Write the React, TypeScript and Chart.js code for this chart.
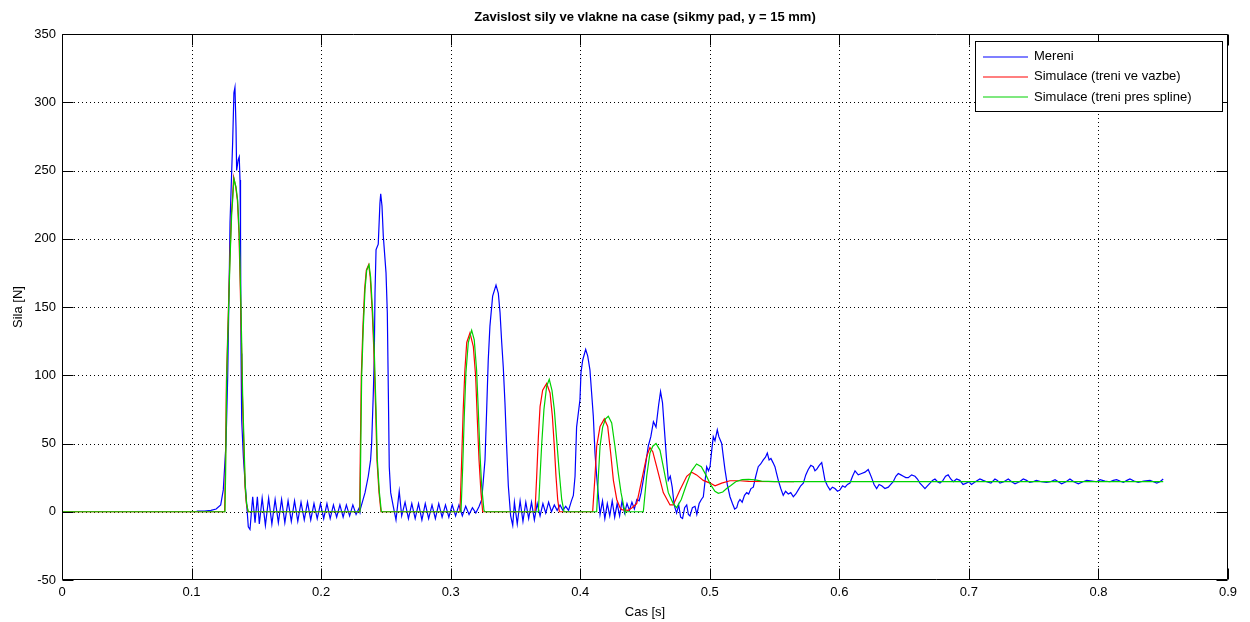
import { useEffect, useRef } from "react";
import { Chart, registerables } from "chart.js";

Chart.register(...registerables);

const TITLE = "Zavislost sily ve vlakne na case (sikmy pad, y = 15 mm)";
const X_LABEL = "Cas [s]";
const Y_LABEL = "Sila [N]";
const X_TICKS = [0, 0.1, 0.2, 0.3, 0.4, 0.5, 0.6, 0.7, 0.8, 0.9];
const X_TICK_LABELS = ["0", "0.1", "0.2", "0.3", "0.4", "0.5", "0.6", "0.7", "0.8", "0.9"];
const Y_TICKS = [-50, 0, 50, 100, 150, 200, 250, 300, 350];
const SERIES_NAMES = ["Mereni", "Simulace (treni ve vazbe)", "Simulace (treni pres spline)"];
const SERIES_COLORS = ["#0000ff", "#ff0000", "#00d200"];

// Measured force [t (s), F (N)]
const mereni: [number, number][] = [
  [0.104, 0.5], [0.110, 0.5], [0.115, 1], [0.119, 2], [0.1225, 5], [0.1245, 16], [0.1266, 50],
  [0.1279, 99], [0.1291, 172], [0.1297, 212], [0.1310, 250], [0.1317, 270], [0.1327, 307],
  [0.1335, 311], [0.1343, 282], [0.1348, 250], [0.1360, 258], [0.1368, 260], [0.1374, 243],
  [0.1378, 204], [0.1382, 116], [0.1387, 67], [0.1400, 40], [0.1412, 23], [0.1425, 6],
  [0.1438, -11], [0.1451, -13], [0.1472, 11], [0.1490, -8], [0.1508, 11], [0.1523, -9],
  [0.1545, 10], [0.1570, -10], [0.1595, 10], [0.1620, -9], [0.1645, 9], [0.1670, -8],
  [0.1695, 9], [0.1720, -8], [0.1745, 8], [0.1770, -7], [0.1795, 8], [0.1820, -7],
  [0.1845, 7], [0.1870, -6], [0.1895, 7], [0.1920, -6], [0.1945, 6], [0.1970, -5],
  [0.1995, 6], [0.2020, -5], [0.2045, 6], [0.2070, -5], [0.2095, 5], [0.2120, -4],
  [0.2145, 5], [0.2170, -4], [0.2195, 5], [0.2220, -3], [0.2245, 5], [0.2270, -2],
  [0.2295, 3], [0.2300, 1], [0.2339, 14], [0.2364, 26], [0.2382, 38], [0.2390, 50],
  [0.2403, 87], [0.2410, 111], [0.2416, 160], [0.2424, 192], [0.2441, 196], [0.2454, 226],
  [0.2460, 233], [0.2470, 224], [0.2480, 202], [0.2501, 175], [0.2511, 146], [0.2519, 87],
  [0.2526, 33], [0.2537, 14], [0.2557, 4], [0.2578, -6], [0.2603, 15],
  [0.2622, -3], [0.2648, 7], [0.2674, -5], [0.2700, 6], [0.2726, -5], [0.2752, 6],
  [0.2778, -6], [0.2804, 6], [0.2830, -5], [0.2856, 5], [0.2882, -5], [0.2908, 6],
  [0.2934, -4], [0.2960, 5], [0.2986, -4], [0.3012, 5], [0.3038, -3], [0.3064, 5],
  [0.3090, -3], [0.3116, 4], [0.3142, -2], [0.3168, 3], [0.3194, -1], [0.3220, 4],
  [0.3240, 9], [0.3265, 38], [0.3278, 75], [0.3290, 111], [0.3303, 136], [0.3324, 158],
  [0.3350, 166], [0.3368, 160], [0.3381, 146], [0.3394, 124], [0.3406, 106], [0.3419, 80],
  [0.3432, 48], [0.3445, 19], [0.3463, -3], [0.3479, -10],
  [0.3492, 7], [0.3514, -9], [0.3536, 8], [0.3558, -7], [0.3580, 7], [0.3602, -5],
  [0.3624, 7], [0.3646, -6], [0.3668, 6], [0.3690, -3], [0.3712, 6], [0.3734, -1],
  [0.3756, 7], [0.3778, 0], [0.3800, 5], [0.3822, 1], [0.3844, 5], [0.3866, 1],
  [0.3888, 4], [0.3910, 1], [0.3932, 8], [0.3947, 12], [0.3960, 26], [0.3972, 62],
  [0.3998, 82], [0.4006, 102], [0.4019, 111], [0.4042, 119], [0.4058, 114], [0.4075, 104],
  [0.4088, 87], [0.4101, 70], [0.4114, 43], [0.4127, 26], [0.4140, 12],
  [0.4153, -2], [0.4172, 8], [0.4190, -5], [0.4209, 6], [0.4228, -3], [0.4247, 8],
  [0.4266, -4], [0.4285, 6], [0.4304, -3], [0.4323, 8], [0.4342, -1], [0.4361, 6],
  [0.4380, 1], [0.4399, 7], [0.4418, 2], [0.4437, 9], [0.4455, 8], [0.4470, 14],
  [0.4490, 25], [0.4510, 38], [0.4525, 48], [0.4545, 55], [0.4565, 66], [0.4585, 62],
  [0.4605, 78], [0.4620, 88], [0.4635, 80], [0.4650, 60], [0.4665, 40], [0.4680, 23],
  [0.4695, 26], [0.4710, 18], [0.4725, 5], [0.4744, -1], [0.4760, 5], [0.4775, -4],
  [0.4790, -5], [0.4806, 3], [0.4822, 5], [0.4835, -2], [0.4847, -3], [0.4866, 3],
  [0.4886, 4], [0.4900, -2], [0.4918, 6], [0.4935, 9], [0.4950, 11], [0.4963, 22],
  [0.4976, 33], [0.4990, 30], [0.5002, 33], [0.5015, 45], [0.5027, 55], [0.5040, 52],
  [0.5058, 60], [0.5070, 55], [0.5092, 50], [0.5105, 40], [0.5117, 31], [0.5135, 20],
  [0.5156, 11], [0.5175, 6], [0.5192, 2], [0.5208, 3], [0.5220, 7], [0.5233, 9],
  [0.5250, 7], [0.5268, 12], [0.5285, 14], [0.5300, 13], [0.5318, 17], [0.5336, 18],
  [0.5355, 26], [0.5374, 33], [0.5393, 35], [0.5413, 38], [0.5430, 40], [0.5444, 43],
  [0.5458, 38], [0.5472, 39], [0.5488, 36], [0.5503, 33], [0.5516, 28], [0.5529, 23],
  [0.5548, 17], [0.5567, 12], [0.5585, 15], [0.5606, 13], [0.5625, 14], [0.5645, 11],
  [0.5664, 13], [0.5683, 16], [0.5702, 19], [0.5722, 21], [0.5741, 27], [0.5760, 31],
  [0.5780, 34], [0.5799, 33], [0.5812, 30], [0.5825, 31], [0.5845, 34], [0.5864, 36],
  [0.5876, 30], [0.5889, 23], [0.5908, 19], [0.5928, 16], [0.5947, 18], [0.5966, 17],
  [0.5986, 15], [0.6005, 16], [0.6025, 19], [0.6044, 18], [0.6063, 20], [0.6082, 21],
  [0.6102, 26], [0.6121, 30], [0.6146, 27], [0.6172, 28], [0.6198, 29], [0.6223, 31],
  [0.6236, 28], [0.6249, 25], [0.6268, 20], [0.6288, 17], [0.6307, 20], [0.6327, 19],
  [0.6352, 17], [0.6378, 18], [0.6397, 20], [0.6416, 22], [0.6436, 26], [0.6455, 28],
  [0.6475, 27], [0.6494, 26], [0.6513, 25], [0.6532, 25], [0.6558, 27], [0.6584, 26],
  [0.6603, 24], [0.6622, 21], [0.6642, 19], [0.6661, 17], [0.6680, 19], [0.6700, 21],
  [0.6719, 23], [0.6738, 24], [0.6758, 22], [0.6777, 21], [0.6800, 23], [0.6820, 26],
  [0.6840, 27], [0.6860, 24], [0.6880, 22], [0.6905, 24], [0.6930, 23], [0.6955, 20],
  [0.6980, 21], [0.7000, 22], [0.7020, 20], [0.7050, 22], [0.7085, 24], [0.7110, 23],
  [0.7137, 22], [0.7170, 21], [0.7201, 24], [0.7220, 23], [0.7240, 21], [0.7270, 22],
  [0.7304, 24], [0.7330, 22], [0.7356, 20.5], [0.7390, 22], [0.7420, 24], [0.7445, 23],
  [0.7470, 21.5], [0.7495, 22], [0.7520, 23], [0.7560, 22], [0.7600, 21.5], [0.7630, 22],
  [0.7665, 23.5], [0.7690, 22], [0.7716, 20.5], [0.7750, 22], [0.7780, 24], [0.7810, 22],
  [0.7845, 20.5], [0.7880, 22], [0.7910, 23], [0.7950, 22.5], [0.7987, 22], [0.8013, 23.5],
  [0.8050, 22.5], [0.8089, 22], [0.8115, 23], [0.8140, 23.5], [0.8165, 22.5], [0.8192, 21.5],
  [0.8220, 23], [0.8243, 24], [0.8275, 22.5], [0.8307, 21.5], [0.8350, 22.5], [0.8398, 23],
  [0.8425, 22], [0.8450, 21], [0.8475, 22], [0.8500, 24],
];

// Simulation, friction in joint [t (s), F (N)]
const treniVazbe: [number, number][] = [
  [0, 0], [0.1255, 0], [0.1261, 30], [0.1269, 95], [0.1281, 137], [0.1295, 183],
  [0.1308, 218], [0.1315, 228], [0.1325, 245], [0.1341, 238], [0.1354, 228], [0.1366, 204],
  [0.1377, 160], [0.1385, 124], [0.1392, 87], [0.1403, 50], [0.1413, 18], [0.1423, 6],
  [0.1436, 0], [0.2297, 0], [0.2302, 38], [0.2310, 99], [0.2323, 136], [0.2336, 163],
  [0.2349, 177], [0.2367, 181], [0.2379, 172], [0.2395, 146], [0.2408, 116], [0.2421, 75],
  [0.2431, 38], [0.2447, 14], [0.2462, 0], [0.3072, 0], [0.3085, 38], [0.3097, 75],
  [0.3110, 104], [0.3124, 124], [0.3149, 131], [0.3175, 121], [0.3193, 99], [0.3206, 67],
  [0.3219, 38], [0.3234, 14], [0.3247, 0], [0.3651, 0], [0.3664, 26], [0.3677, 55],
  [0.3690, 77], [0.3710, 89], [0.3741, 94], [0.3767, 87], [0.3785, 70], [0.3800, 48],
  [0.3813, 26], [0.3826, 9], [0.3839, 0], [0.4096, 0], [0.4114, 26], [0.4127, 48],
  [0.4153, 62.5], [0.4186, 68], [0.4212, 62.5], [0.4235, 43], [0.4256, 23], [0.4282, 9],
  [0.4307, 3], [0.4320, 1.5], [0.4370, 1], [0.4400, 3], [0.4436, 6], [0.4474, 23],
  [0.4513, 40.5], [0.4538, 47], [0.4560, 44], [0.4590, 33], [0.4641, 14], [0.4693, 5],
  [0.4718, 5], [0.4770, 16], [0.4822, 26], [0.4860, 29], [0.4898, 27], [0.4950, 23],
  [0.5002, 21], [0.5041, 19], [0.5092, 21], [0.5156, 22.7], [0.5233, 22.7], [0.5300, 22.2],
  [0.5650, 22],
];

// Simulation, friction via spline [t (s), F (N)]
const treniSpline: [number, number][] = [
  [0, 0], [0.1258, 0], [0.1263, 28], [0.1271, 97], [0.1283, 139], [0.1297, 185],
  [0.1310, 219], [0.1317, 228], [0.1327, 244], [0.1343, 238], [0.1356, 228], [0.1368, 204],
  [0.1379, 160], [0.1387, 124], [0.1394, 87], [0.1405, 50], [0.1415, 18], [0.1425, 6],
  [0.1438, 0], [0.2300, 0], [0.2305, 38], [0.2313, 99], [0.2326, 136], [0.2339, 163],
  [0.2352, 177], [0.2370, 181], [0.2382, 172], [0.2398, 146], [0.2411, 116], [0.2424, 75],
  [0.2434, 38], [0.2450, 14], [0.2465, 0], [0.3080, 0], [0.3093, 33], [0.3105, 70],
  [0.3118, 102], [0.3136, 124], [0.3162, 133], [0.3182, 126], [0.3200, 104], [0.3213, 75],
  [0.3226, 43], [0.3239, 19], [0.3257, 1], [0.3265, 0], [0.3677, 0], [0.3690, 26],
  [0.3703, 50], [0.3720, 75], [0.3741, 92], [0.3761, 97], [0.3782, 89], [0.3800, 75],
  [0.3818, 53], [0.3839, 28], [0.3857, 9], [0.3875, 0], [0.4127, 0], [0.4140, 26],
  [0.4153, 48], [0.4173, 62], [0.4195, 68], [0.4217, 70], [0.4243, 65], [0.4268, 48],
  [0.4294, 28], [0.4315, 14], [0.4338, 3], [0.4345, 0], [0.4487, 0], [0.4513, 26],
  [0.4538, 43], [0.4560, 48], [0.4585, 50], [0.4616, 45], [0.4641, 33], [0.4680, 14],
  [0.4718, 6], [0.4744, 3], [0.4780, 9], [0.4820, 20], [0.4860, 30], [0.4898, 35],
  [0.4935, 33], [0.4970, 27], [0.5005, 20], [0.5040, 15], [0.5066, 13.5], [0.5100, 14.5],
  [0.5130, 17], [0.5160, 19], [0.5200, 22], [0.5250, 23.5], [0.5300, 23.7], [0.5350, 23.3],
  [0.5400, 22.5], [0.5500, 22.1], [0.8500, 22],
];

const FONT = "'Liberation Sans', Arial, sans-serif";

const decorPlugin = {
  id: "matlabDecor",
  beforeDatasetsDraw(chart: any) {
    const { ctx, chartArea, scales } = chart;
    const { left, right, top, bottom } = chartArea;
    ctx.save();
    ctx.strokeStyle = "#000";
    ctx.lineWidth = 1;
    ctx.setLineDash([1, 3]);
    X_TICKS.forEach((v) => {
      const px = Math.round(scales.x.getPixelForValue(v)) + 0.5;
      if (px <= left + 1 || px >= right - 1) return;
      ctx.beginPath();
      ctx.moveTo(px, top);
      ctx.lineTo(px, bottom);
      ctx.stroke();
    });
    Y_TICKS.forEach((v) => {
      const py = Math.round(scales.y.getPixelForValue(v)) + 0.5;
      if (py <= top + 1 || py >= bottom - 1) return;
      ctx.beginPath();
      ctx.moveTo(left, py);
      ctx.lineTo(right, py);
      ctx.stroke();
    });
    ctx.restore();
  },
  afterDatasetsDraw(chart: any) {
    const { ctx, chartArea, scales } = chart;
    const { left, right, top, bottom } = chartArea;
    const L = Math.round(left) + 0.5;
    const R = Math.round(right) - 0.5;
    const T = Math.round(top) + 0.5;
    const B = Math.round(bottom) - 0.5;
    ctx.save();
    ctx.setLineDash([]);
    ctx.lineWidth = 1;
    ctx.strokeStyle = "#000";
    ctx.beginPath();
    ctx.rect(L, T, R - L, B - T);
    ctx.stroke();
    const tl = 11;
    ctx.beginPath();
    X_TICKS.forEach((v) => {
      const px = Math.round(scales.x.getPixelForValue(v)) + 0.5;
      ctx.moveTo(px, B);
      ctx.lineTo(px, B - tl);
      ctx.moveTo(px, T);
      ctx.lineTo(px, T + tl);
    });
    Y_TICKS.forEach((v) => {
      const py = Math.round(scales.y.getPixelForValue(v)) + 0.5;
      ctx.moveTo(L, py);
      ctx.lineTo(L + tl, py);
      ctx.moveTo(R, py);
      ctx.lineTo(R - tl, py);
    });
    ctx.stroke();
    ctx.restore();

    // legend box
    ctx.save();
    const bx = 975, by = 41, bw = 248, bh = 71;
    ctx.fillStyle = "#000";
    ctx.fillRect(bx, by, bw, bh);
    ctx.fillStyle = "#fff";
    ctx.fillRect(bx + 1, by + 1, bw - 2, bh - 2);
    ctx.font = `13px ${FONT}`;
    ctx.textBaseline = "middle";
    ctx.textAlign = "left";
    ctx.lineWidth = 1.2;
    SERIES_NAMES.forEach((name, i) => {
      const yy = 56.5 + i * 20.3;
      ctx.strokeStyle = SERIES_COLORS[i];
      ctx.beginPath();
      ctx.moveTo(983, Math.round(yy));
      ctx.lineTo(1028, Math.round(yy));
      ctx.stroke();
      ctx.fillStyle = "#000";
      ctx.fillText(name, 1034, yy);
    });
    ctx.restore();
  },
  afterDraw(chart: any) {
    const { ctx, chartArea } = chart;
    const cx = (chartArea.left + chartArea.right) / 2;
    const cy = (chartArea.top + chartArea.bottom) / 2;
    ctx.save();
    ctx.fillStyle = "#000";
    ctx.textAlign = "center";
    ctx.textBaseline = "middle";
    ctx.font = `bold 13px ${FONT}`;
    ctx.fillText(TITLE, cx, 17);
    ctx.font = `13px ${FONT}`;
    ctx.fillText(X_LABEL, cx, 612);
    ctx.translate(18, cy);
    ctx.rotate(-Math.PI / 2);
    ctx.fillText(Y_LABEL, 0, 0);
    ctx.restore();
  },
};

export default function App() {
  const canvasRef = useRef<HTMLCanvasElement | null>(null);

  useEffect(() => {
    const canvas = canvasRef.current;
    if (!canvas) return;
    const toPoints = (arr: [number, number][]) => arr.map(([x, y]) => ({ x, y }));
    const makeSet = (i: number, arr: [number, number][], order: number) => ({
      label: SERIES_NAMES[i],
      data: toPoints(arr),
      borderColor: SERIES_COLORS[i],
      backgroundColor: SERIES_COLORS[i],
      borderWidth: 1.2,
      pointRadius: 0,
      tension: 0,
      fill: false,
      order,
    });
    const chart = new Chart(canvas, {
      type: "line",
      data: {
        datasets: [makeSet(0, mereni, 3), makeSet(1, treniVazbe, 2), makeSet(2, treniSpline, 1)],
      },
      options: {
        responsive: false,
        animation: false,
        devicePixelRatio: 1,
        layout: { padding: { top: 34, right: 22, left: 0, bottom: 0 } },
        plugins: {
          legend: { display: false },
          title: { display: false },
          tooltip: { enabled: false },
        },
        events: [],
        scales: {
          x: {
            type: "linear",
            min: 0,
            max: 0.9,
            grid: { display: false, drawTicks: false },
            border: { display: false },
            afterBuildTicks: (scale: any) => {
              scale.ticks = X_TICKS.map((v) => ({ value: v }));
            },
            afterFit: (scale: any) => {
              scale.height = 42;
            },
            ticks: {
              autoSkip: false,
              maxRotation: 0,
              padding: 5,
              color: "#000",
              font: { family: FONT, size: 13 },
              callback: (_v: any, i: number) => X_TICK_LABELS[i],
            },
          },
          y: {
            type: "linear",
            min: -50,
            max: 350,
            grid: { display: false, drawTicks: false },
            border: { display: false },
            afterBuildTicks: (scale: any) => {
              scale.ticks = Y_TICKS.map((v) => ({ value: v }));
            },
            afterFit: (scale: any) => {
              scale.width = 62;
            },
            ticks: {
              autoSkip: false,
              padding: 6,
              color: "#000",
              font: { family: FONT, size: 13 },
              callback: (v: any) => String(v),
            },
          },
        },
      },
      plugins: [decorPlugin],
    } as any);
    return () => chart.destroy();
  }, []);

  return (
    <div style={{ position: "fixed", left: 0, top: 0, width: 1250, height: 622, background: "#fff" }}>
      <canvas ref={canvasRef} width={1250} height={622} style={{ display: "block" }} />
    </div>
  );
}
